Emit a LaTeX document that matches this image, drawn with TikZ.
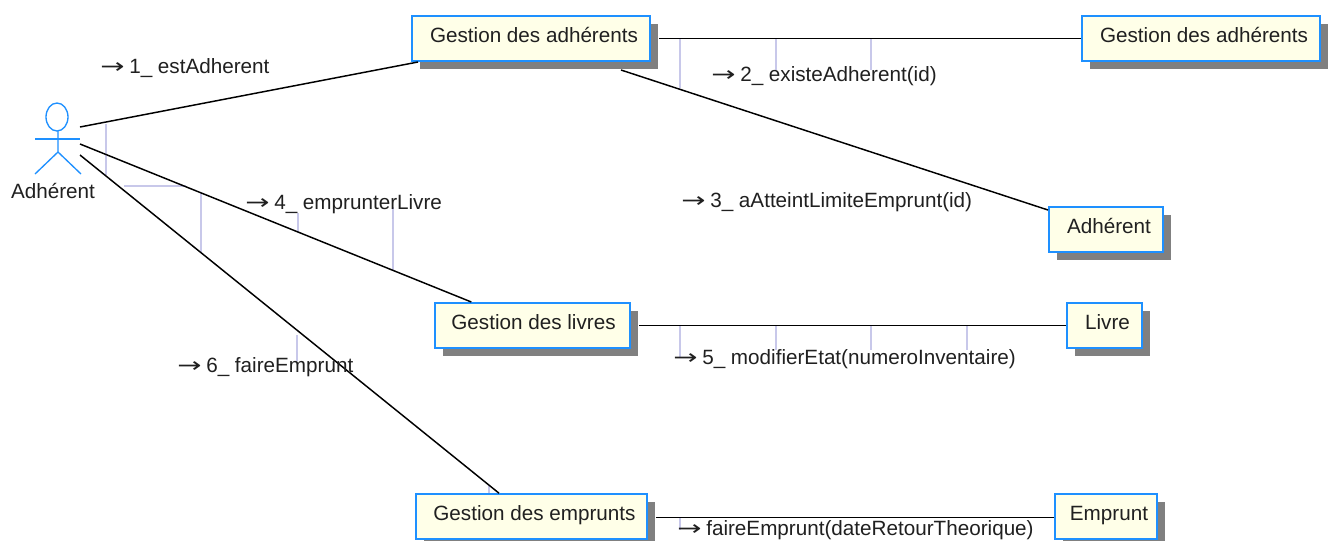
\documentclass[tikz,border=0pt]{standalone}
\usepackage{fontspec}
\usepackage{graphicx}
\setmainfont{Liberation Sans}
\newfontfamily\arrowfont{DejaVu Sans}
\usetikzlibrary{calc,shadows}
\definecolor{boxblue}{HTML}{1E90FF}
\definecolor{boxfill}{HTML}{FFFFE8}
\definecolor{paleline}{HTML}{C8C8EA}
\definecolor{textgrey}{HTML}{202020}
\newcommand{\callarrow}{\makebox[21.75pt][l]{\arrowfont\scalebox{1.4}[1]{→}}}
\tikzset{
  objbox/.style={draw=boxblue,fill=boxfill,line width=1.5pt,text=textgrey,inner sep=0pt,
    minimum height=33.75pt,text height=12.75pt,text depth=7.25pt,
    execute at begin node={\hspace*{4.5pt}},
    drop shadow={shadow xshift=6pt,shadow yshift=-6pt,fill=black!50,opacity=1}},
  link/.style={draw=black,line width=1.1pt},
  pale/.style={draw=paleline,line width=1pt},
  msg/.style={anchor=west,inner sep=0pt,text=textgrey},
  actorline/.style={draw=boxblue,line width=1pt}
}
\begin{document}
\begin{tikzpicture}[x=0.75pt,y=-0.75pt,font=\fontsize{15.5}{18}\selectfont]
\useasboundingbox (0,0) rectangle (1335,540);
\fill[white] (0,0) rectangle (1335,540);

\coordinate (acta) at (80,127);
\coordinate (actb) at (80,144);
\coordinate (actc) at (80,155);

\draw[pale] (106,124) -- (106,175);
\draw[pale] (124,186) -- (186,186);
\draw[pale] (201,193) -- (201,252);
\draw[pale] (298,213) -- (298,232);
\draw[pale] (393,207) -- (393,270);
\draw[pale] (297,335) -- (297,361);
\draw[pale] (489,485) -- (489,495);
\draw[pale] (680,39) -- (680,88);
\draw[pale] (776,39) -- (776,70);
\draw[pale] (871,39) -- (871,70);
\draw[pale] (680,326) -- (680,358);
\draw[pale] (776,326) -- (776,350);
\draw[pale] (871,326) -- (871,350);
\draw[pale] (967,326) -- (967,350);
\draw[pale] (680,518) -- (680,530);

\node[objbox,minimum width=178.5pt] (gestadh) at (531,38.5) {Gestion des adhérents};
\node[objbox,minimum width=178.5pt] (gestadhb) at (1201,38.5) {Gestion des adhérents};
\node[objbox,minimum width=85.5pt] (adherent) at (1106,229.5) {Adhérent};
\node[objbox,minimum width=146.25pt,execute at begin node={\hspace*{-3pt}}] (gestliv) at (532.5,325.5) {Gestion des livres};
\node[objbox,minimum width=56.25pt] (livre) at (1104.5,325.5) {Livre};
\node[objbox,minimum width=173.25pt] (gestemp) at (531.5,516.7) {Gestion des emprunts};
\node[objbox,minimum width=76.5pt] (emprunt) at (1106,516.7) {Emprunt};

\draw[link] (acta) -- ([xshift=5.25pt]gestadh.south west);
\draw[link] (actb) -- ([xshift=28pt]gestliv.north west);
\draw[link] (actc) -- ([xshift=63pt]gestemp.north west);
\draw[link] ([xshift=-22.5pt,yshift=-6pt]gestadh.south east) -- ([yshift=-3pt]adherent.north west);
\draw[link] ([xshift=6pt]gestadh.east) -- (gestadhb.west);
\draw[link] ([xshift=6pt]gestliv.east) -- (livre.west);
\draw[link] ([xshift=6pt,yshift=-0.75pt]gestemp.east) -- ([yshift=-0.75pt]emprunt.west);

\draw[actorline] (57,117) ellipse (11 and 14);
\draw[actorline] (35,139) -- (80,139);
\draw[actorline] (58,131) -- (58,152) -- (35,174);
\draw[actorline] (58,152) -- (81,174);
\node[text=textgrey,inner sep=0pt] (actor) at (53,191) {Adhérent};

\node[msg] (msga) at (100,68) {\callarrow 1\_ estAdherent};
\node[msg] (msgb) at (711,76) {\callarrow 2\_ existeAdherent(id)};
\node[msg] (msgc) at (681,202) {\callarrow 3\_ aAtteintLimiteEmprunt(id)};
\node[msg] (msgd) at (245,204) {\callarrow 4\_ emprunterLivre};
\node[msg] (msge) at (673,359) {\callarrow 5\_ modifierEtat(numeroInventaire)};
\node[msg] (msgf) at (177,367) {\callarrow 6\_ faireEmprunt};
\node[msg] (msgg) at (677,530.5) {\callarrow faireEmprunt(dateRetourTheorique)};
\end{tikzpicture}
\end{document}
